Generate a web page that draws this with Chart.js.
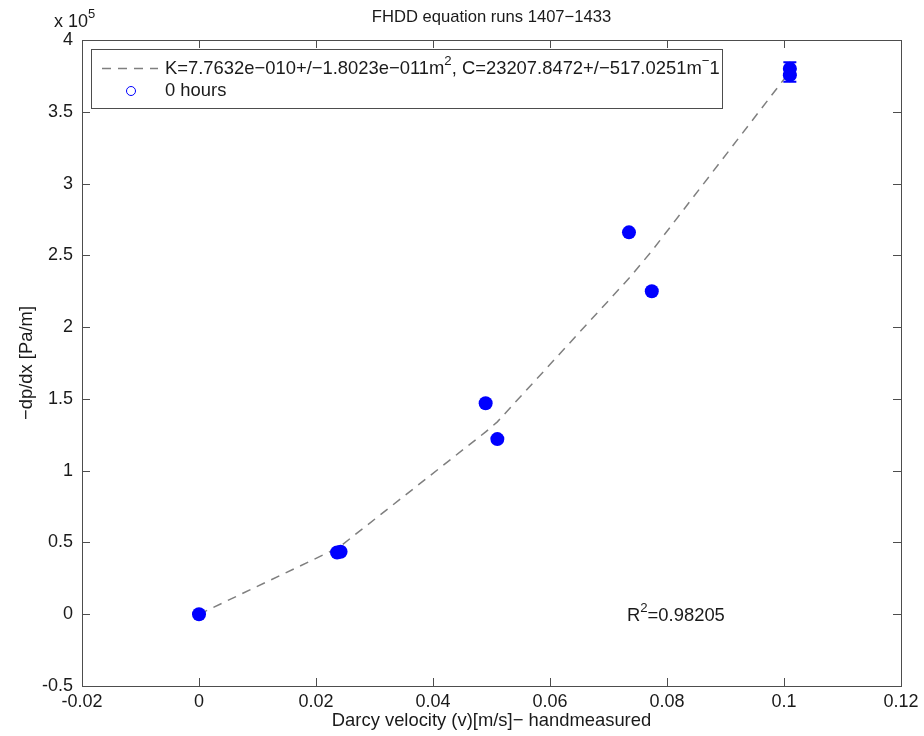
<!DOCTYPE html>
<html>
<head>
<meta charset="utf-8">
<title>FHDD equation runs 1407−1433</title>
<script src="https://cdn.jsdelivr.net/npm/chart.js@4.4.1/dist/chart.umd.min.js"></script>
<style>
  html, body { margin: 0; padding: 0; background: #ffffff; }
  #wrap { width: 924px; height: 736px; position: relative; }
</style>
</head>
<body>
<div id="wrap"><canvas id="chart" width="924" height="736"></canvas></div>
<script>
// Measured Darcy velocity [m/s] and pressure gradient [Pa/m]
const velocity = [0, 0.0236, 0.0242, 0.0490, 0.0510, 0.0735, 0.0774, 0.1010, 0.1010];
const pressureGradient = [0, 43000, 43500, 147000, 122000, 266000, 225000, 380000, 375500];
const gradientError = [0, 0, 0, 0, 0, 0, 0, 4500, 4500];

// Forchheimer fit evaluated at the measured velocities
const fitVelocity = [0, 0.0239, 0.0490, 0.0510, 0.0735, 0.0774, 0.1010];
const fitGradient = [0, 46500, 127000, 134000, 234000, 253000, 378000];

// Axis ticks
const xTicks = [-0.02, 0, 0.02, 0.04, 0.06, 0.08, 0.1, 0.12];
const yTicks = [-50000, 0, 50000, 100000, 150000, 200000, 250000, 300000, 350000, 400000];

const fitLabel = 'K=7.7632e\u2212010+/\u22121.8023e\u2212011m';
const seriesLabel = '0 hours';
const rSquared = '0.98205';

const FONT = '"Liberation Sans", Arial, Helvetica, sans-serif';
const TEXT = '#1a1a1a';
const AXIS = '#4d4d4d';
const BLUE = '#0000ff';
const FIT = '#7f7f7f';
const TICK_SIZE = 18;
const LABEL_SIZE = 18.4;

// draw a run of text pieces, some raised as superscripts
function drawRich(ctx, x, y, parts, size) {
  let cx = x;
  ctx.textBaseline = 'middle';
  ctx.textAlign = 'left';
  for (const p of parts) {
    if (p.sup) {
      ctx.font = (size * 0.72).toFixed(1) + 'px ' + FONT;
      ctx.fillText(p.t, cx, y - size * 0.42);
    } else {
      ctx.font = size + 'px ' + FONT;
      ctx.fillText(p.t, cx, y);
    }
    cx += ctx.measureText(p.t).width;
  }
  return cx - x;
}

const framePlugin = {
  id: 'frame',
  afterDatasetsDraw(chart) {
    const ctx = chart.ctx;
    const xs = chart.scales.x, ys = chart.scales.y;

    // error bars
    ctx.save();
    ctx.strokeStyle = BLUE;
    ctx.lineWidth = 2;
    velocity.forEach((v, i) => {
      const e = gradientError[i];
      if (!e) return;
      const px = xs.getPixelForValue(v);
      const top = ys.getPixelForValue(pressureGradient[i] + e);
      const bot = ys.getPixelForValue(pressureGradient[i] - e);
      ctx.beginPath();
      ctx.moveTo(px, top); ctx.lineTo(px, bot);
      ctx.moveTo(px - 6.5, top); ctx.lineTo(px + 6.5, top);
      ctx.moveTo(px - 6.5, bot); ctx.lineTo(px + 6.5, bot);
      ctx.stroke();
    });
    ctx.restore();
  },
  afterDraw(chart) {
    const ctx = chart.ctx;
    const a = chart.chartArea;
    const xs = chart.scales.x, ys = chart.scales.y;
    ctx.save();

    // axes box with inward ticks on every side
    ctx.strokeStyle = AXIS;
    ctx.lineWidth = 1;
    ctx.strokeRect(Math.round(a.left) + 0.5, Math.round(a.top) + 0.5,
                   Math.round(a.right - a.left), Math.round(a.bottom - a.top));
    const tl = 8;
    ctx.beginPath();
    xTicks.forEach(v => {
      const px = Math.round(xs.getPixelForValue(v)) + 0.5;
      ctx.moveTo(px, a.bottom); ctx.lineTo(px, a.bottom - tl);
      ctx.moveTo(px, a.top); ctx.lineTo(px, a.top + tl);
    });
    yTicks.forEach(v => {
      const py = Math.round(ys.getPixelForValue(v)) + 0.5;
      ctx.moveTo(a.left, py); ctx.lineTo(a.left + tl, py);
      ctx.moveTo(a.right, py); ctx.lineTo(a.right - tl, py);
    });
    ctx.stroke();

    ctx.fillStyle = TEXT;
    // title
    ctx.font = '16.6px ' + FONT;
    ctx.textAlign = 'center';
    ctx.textBaseline = 'middle';
    ctx.fillText('FHDD equation runs 1407\u22121433', (a.left + a.right) / 2, 17);

    // axis titles
    ctx.font = LABEL_SIZE + 'px ' + FONT;
    ctx.fillText('Darcy velocity (v)[m/s]\u2212 handmeasured', (a.left + a.right) / 2, 721);
    ctx.save();
    ctx.translate(27, (a.top + a.bottom) / 2);
    ctx.rotate(-Math.PI / 2);
    ctx.fillText('\u2212dp/dx [Pa/m]', 0, 0);
    ctx.restore();

    // exponent of the y axis
    drawRich(ctx, 54, 22, [{ t: 'x 10' }, { t: '5', sup: true }], TICK_SIZE);

    // R squared
    drawRich(ctx, 627, 616, [{ t: 'R' }, { t: '2', sup: true }, { t: '=' + rSquared }], LABEL_SIZE);

    // legend box
    const lx = 91, ly = 49, lw = 631, lh = 59;
    ctx.fillStyle = '#ffffff';
    ctx.fillRect(lx, ly, lw, lh);
    ctx.strokeStyle = AXIS;
    ctx.strokeRect(lx + 0.5, ly + 0.5, lw, lh);

    ctx.strokeStyle = FIT;
    ctx.lineWidth = 1.5;
    ctx.setLineDash([9, 7]);
    ctx.beginPath();
    ctx.moveTo(102, 68.5); ctx.lineTo(158, 68.5);
    ctx.stroke();
    ctx.setLineDash([]);

    ctx.strokeStyle = BLUE;
    ctx.lineWidth = 1;
    ctx.beginPath();
    ctx.arc(131, 91, 4.5, 0, Math.PI * 2);
    ctx.stroke();

    ctx.fillStyle = TEXT;
    drawRich(ctx, 165, 69, [
      { t: fitLabel }, { t: '2', sup: true },
      { t: ', C=23207.8472+/\u2212517.0251m' }, { t: '\u2212', sup: true }, { t: '1' }
    ], LABEL_SIZE);
    drawRich(ctx, 165, 91, [{ t: seriesLabel }], LABEL_SIZE);

    ctx.restore();
  }
};

new Chart(document.getElementById('chart'), {
  type: 'scatter',
  data: {
    datasets: [
      {
        type: 'line',
        label: 'fit',
        data: fitVelocity.map((v, i) => ({ x: v, y: fitGradient[i] })),
        borderColor: FIT,
        borderWidth: 1.5,
        borderDash: [9, 7],
        pointRadius: 0,
        fill: false,
        tension: 0,
        order: 1
      },
      {
        label: seriesLabel,
        data: velocity.map((v, i) => ({ x: v, y: pressureGradient[i] })),
        backgroundColor: BLUE,
        borderColor: BLUE,
        borderWidth: 0,
        pointRadius: 7,
        order: 0
      }
    ]
  },
  options: {
    responsive: false,
    animation: false,
    layout: { padding: { left: 0, top: 40, right: 23, bottom: 0 } },
    plugins: {
      legend: { display: false },
      title: { display: false },
      tooltip: { enabled: false }
    },
    scales: {
      x: {
        type: 'linear',
        min: -0.02,
        max: 0.12,
        afterBuildTicks: s => { s.ticks = xTicks.map(v => ({ value: v })); },
        afterFit: s => { s.height = 50; },
        grid: { display: false, drawTicks: false },
        border: { display: false },
        ticks: {
          padding: 5,
          color: TEXT,
          font: { family: FONT, size: TICK_SIZE },
          maxRotation: 0,
          callback: v => String(parseFloat(v.toFixed(2)))
        }
      },
      y: {
        type: 'linear',
        min: -50000,
        max: 400000,
        afterBuildTicks: s => { s.ticks = yTicks.map(v => ({ value: v })); },
        afterFit: s => { s.width = 82; },
        grid: { display: false, drawTicks: false },
        border: { display: false },
        ticks: {
          padding: 9,
          color: TEXT,
          font: { family: FONT, size: TICK_SIZE },
          callback: v => String(Math.round(v / 10000) / 10)
        }
      }
    }
  },
  plugins: [framePlugin]
});
</script>
</body>
</html>
